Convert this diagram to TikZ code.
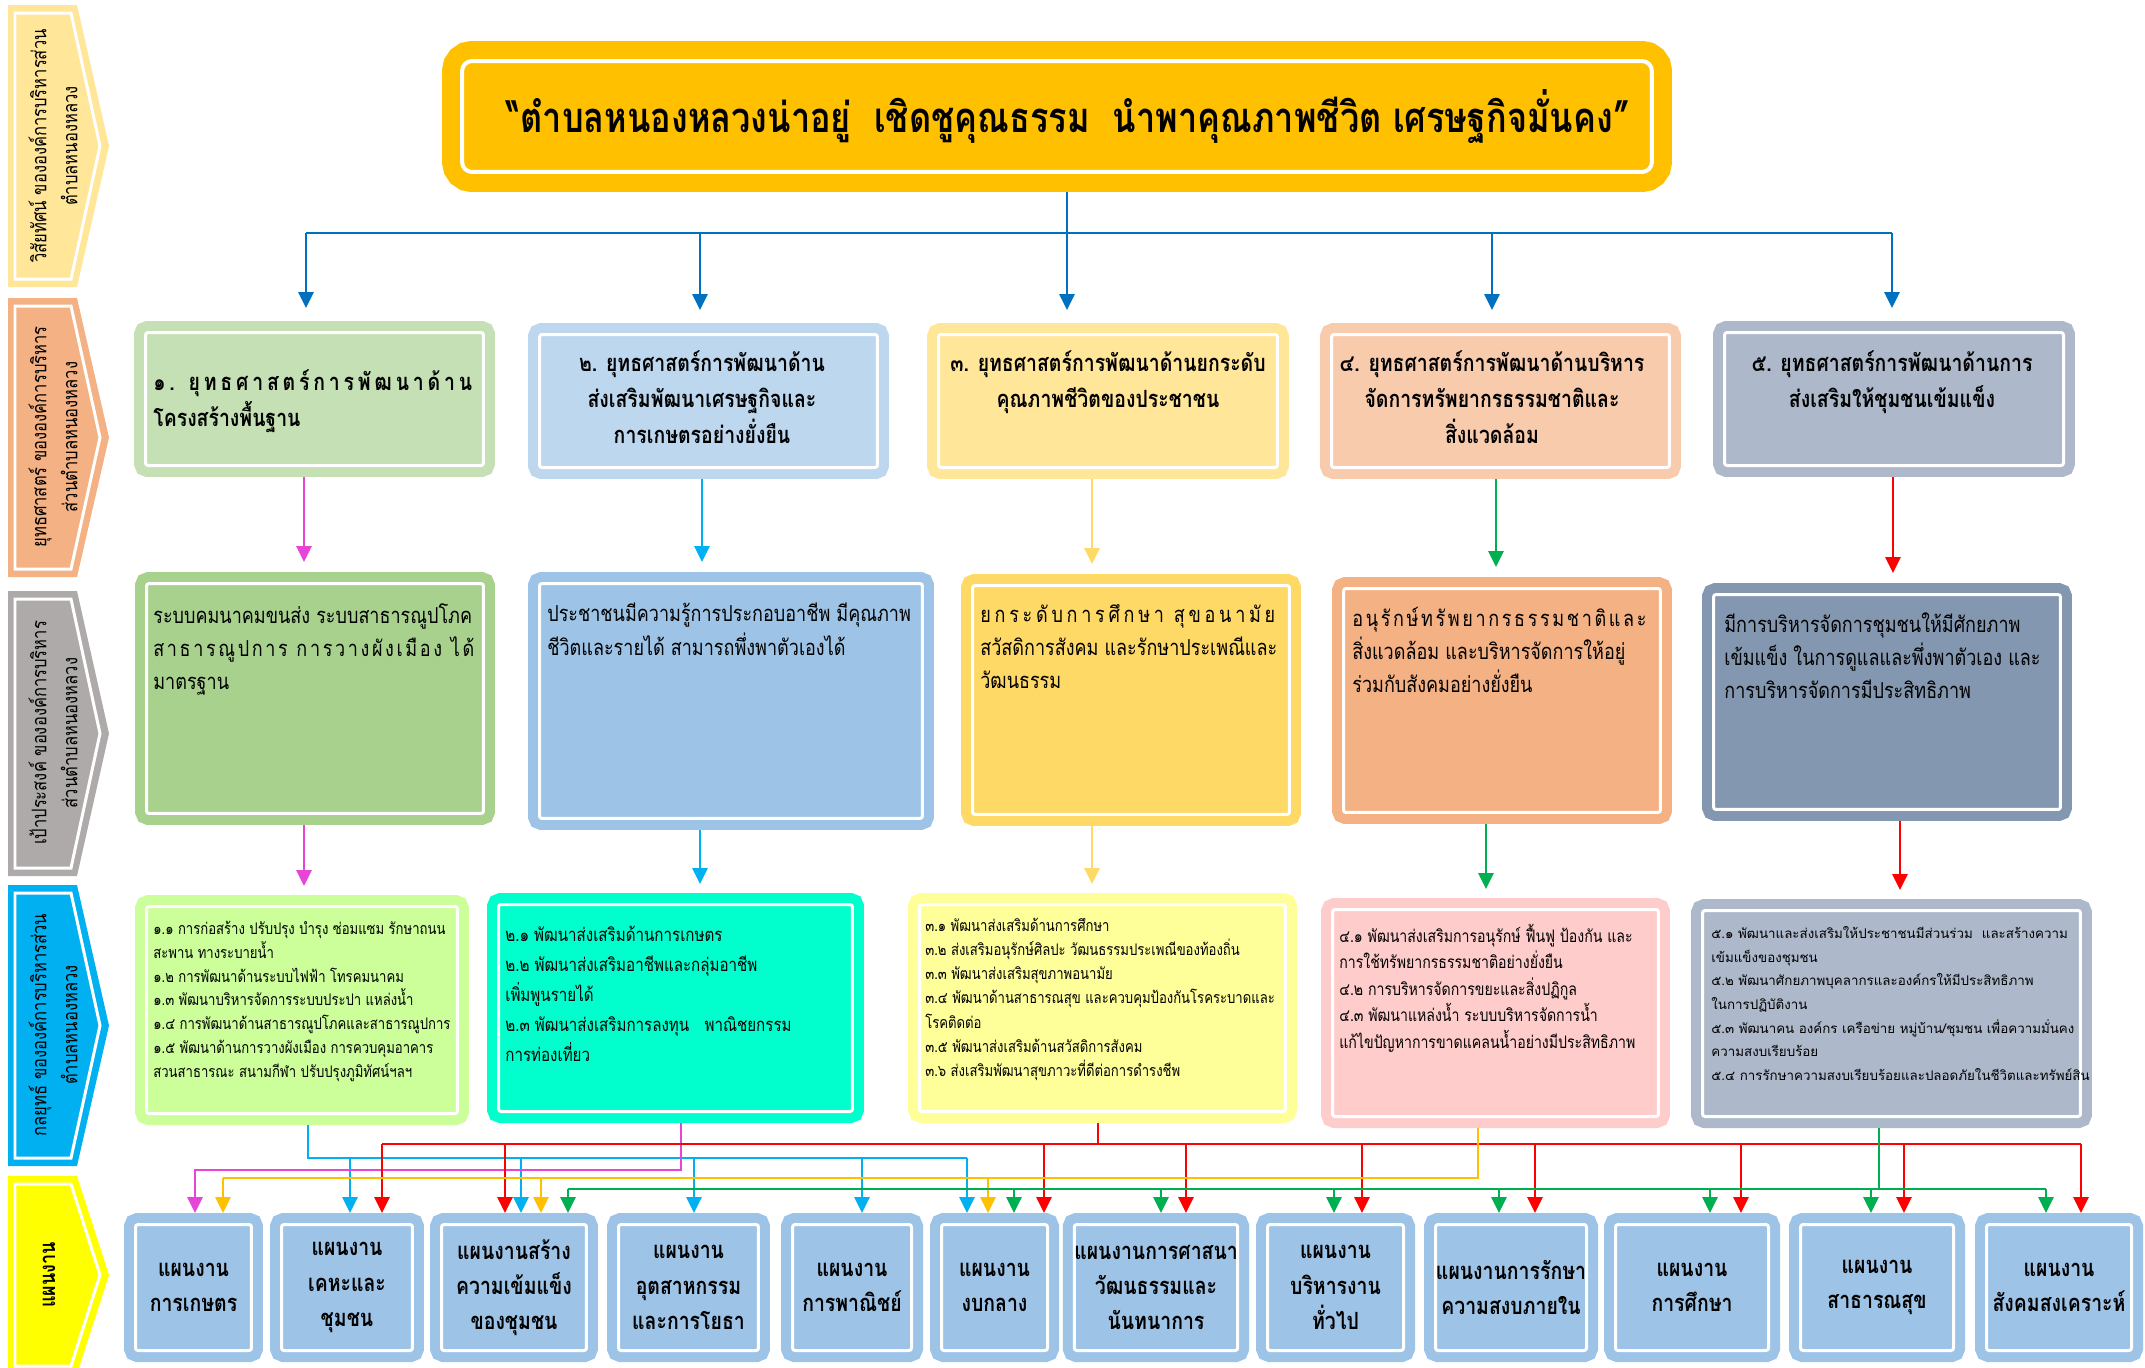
\documentclass[tikz,border=0pt]{standalone}
\usepackage{fontspec}
\newfontfamily\thai[Script=Thai]{Loma}
\newfontfamily\thain[Script=Thai,FakeStretch=0.82]{Loma}
\usetikzlibrary{arrows.meta}

\definecolor{ttl}{HTML}{FFC000}
\definecolor{tline}{HTML}{0070C0}
\definecolor{lab1}{HTML}{FFE699}
\definecolor{lab2}{HTML}{F4B183}
\definecolor{lab3}{HTML}{AEAAAA}
\definecolor{lab4}{HTML}{00B0F0}
\definecolor{lab5}{HTML}{FFFF00}
\definecolor{s1c}{HTML}{C5E0B4}
\definecolor{s2c}{HTML}{BDD7EE}
\definecolor{s3c}{HTML}{FFE699}
\definecolor{s4c}{HTML}{F8CBAD}
\definecolor{s5c}{HTML}{ADB9CA}
\definecolor{g1c}{HTML}{A9D18E}
\definecolor{g2c}{HTML}{9DC3E6}
\definecolor{g3c}{HTML}{FFD966}
\definecolor{g4c}{HTML}{F4B183}
\definecolor{g5c}{HTML}{8497B0}
\definecolor{p1c}{HTML}{CCFF99}
\definecolor{p2c}{HTML}{00FFCC}
\definecolor{p3c}{HTML}{FFFF99}
\definecolor{p4c}{HTML}{FFCCCC}
\definecolor{p5c}{HTML}{ADB9CA}
\definecolor{planc}{HTML}{9DC3E6}
\definecolor{magc}{HTML}{E645D8}
\definecolor{cyanc}{HTML}{00B0F0}
\definecolor{lorc}{HTML}{FFD966}
\definecolor{orgc}{HTML}{FFC000}
\definecolor{grnc}{HTML}{00B050}
\definecolor{redc}{HTML}{FF0000}

\begin{document}
\begin{tikzpicture}[x=0.02cm, y=-0.02cm,
  panel/.style={rectangle, rounded corners=0.05cm, line width=0.2cm, double=white,
    double distance=0.06cm, inner sep=0pt, outer sep=0.23cm},
  plan/.style={panel, draw=planc, fill=planc, minimum width=#1, minimum height=2.52cm,
    align=center, font=\thain\bfseries\fontsize{13.5}{20}\selectfont},
  lbl/.style={rotate=90, align=center, font=\thain\fontsize{11.5}{17.6}\selectfont},
  stext/.style={anchor=north, inner sep=0pt, align=center,
    font=\thain\bfseries\fontsize{13.5}{20.5}\selectfont},
  gtext/.style={anchor=north west, inner sep=0pt, align=left,
    font=\thain\fontsize{12.5}{18.8}\selectfont},
  ptext/.style={anchor=north west, inner sep=0pt, align=left},
  conn/.style={line width=0.055cm},
  arw/.style={-{Triangle[width=0.3cm,length=0.32cm]}}]

\path[use as bounding box, fill=white] (0,0) rectangle (2145,1367);

% left side labels
\foreach \a/\b/\c in {5/287/lab1, 298/577/lab2, 591/876/lab3, 885/1166/lab4, 1176/1374/lab5} {
  \fill[\c] (8,\a) -- (77,\a) -- (109,{(\a+\b)/2}) -- (77,\b) -- (8,\b) -- cycle;
  \draw[white, line width=0.06cm] (15,\a+8) -- (71,\a+8) -- (100,{(\a+\b)/2})
    -- (71,\b-8) -- (15,\b-8) -- cycle;
}
\node[lbl] (L1) at (53,146) {วิสัยทัศน์ ขององค์การบริหารส่วน\\ตำบลหนองหลวง};
\node[lbl] (L2) at (53,437) {ยุทธศาสตร์ ขององค์การบริหาร\\ส่วนตำบลหนองหลวง};
\node[lbl] (L3) at (53,733) {เป้าประสงค์ ขององค์การบริหาร\\ส่วนตำบลหนองหลวง};
\node[lbl] (L4) at (53,1025) {กลยุทธ์ ขององค์การบริหารส่วน\\ตำบลหนองหลวง};
\node[lbl, font=\thain\bfseries\fontsize{12.5}{14}\selectfont] (L5) at (49,1275) {แผนงาน};

% vision
\node[panel, draw=ttl, fill=ttl, line width=0.36cm, double distance=0.08cm, outer sep=0.4cm,
  rounded corners=0.2cm, minimum width=23.8cm, minimum height=2.22cm,
  font=\thain\bfseries\fontsize{23.8}{28}\selectfont] (T) at (1057,116.5)
  {\hspace*{0.44cm}“ตำบลหนองหลวงน่าอยู่~~เชิดชูคุณธรรม~~นำพาคุณภาพชีวิต เศรษฐกิจมั่นคง”};

% strategies
\node[panel, draw=s1c, fill=s1c, minimum width=6.76cm, minimum height=2.66cm] (S1) at (314.5,399) {};
\node[panel, draw=s2c, fill=s2c, minimum width=6.76cm, minimum height=2.66cm] (S2) at (708.5,401) {};
\node[panel, draw=s3c, fill=s3c, minimum width=6.78cm, minimum height=2.66cm] (S3) at (1108,401) {};
\node[panel, draw=s4c, fill=s4c, minimum width=6.76cm, minimum height=2.66cm] (S4) at (1500.5,401) {};
\node[panel, draw=s5c, fill=s5c, minimum width=6.78cm, minimum height=2.66cm] (S5) at (1894,399) {};
\node[stext, anchor=north west, align=left] (S1t) at (153,369) {{\addfontfeature{LetterSpace=16}๑. ยุทธศาสตร์การพัฒนาด้าน}\\โครงสร้างพื้นฐาน};
\node[stext] (S2t) at (702,350) {๒. ยุทธศาสตร์การพัฒนาด้าน\\ส่งเสริมพัฒนาเศรษฐกิจและ\\การเกษตรอย่างยั่งยืน};
\node[stext] (S3t) at (1108,350) {๓. ยุทธศาสตร์การพัฒนาด้านยกระดับ\\คุณภาพชีวิตของประชาชน};
\node[stext] (S4t) at (1492,350) {๔. ยุทธศาสตร์การพัฒนาด้านบริหาร\\จัดการทรัพยากรธรรมชาติและ\\สิ่งแวดล้อม};
\node[stext] (S5t) at (1892,350) {๕. ยุทธศาสตร์การพัฒนาด้านการ\\ส่งเสริมให้ชุมชนเข้มแข็ง};

% goals
\node[panel, draw=g1c, fill=g1c, minimum width=6.74cm, minimum height=4.60cm] (G1) at (315,698.5) {};
\node[panel, draw=g2c, fill=g2c, minimum width=7.66cm, minimum height=4.70cm] (G2) at (731,701) {};
\node[panel, draw=g3c, fill=g3c, minimum width=6.34cm, minimum height=4.58cm] (G3) at (1131,700) {};
\node[panel, draw=g4c, fill=g4c, minimum width=6.34cm, minimum height=4.48cm] (G4) at (1502,700.5) {};
\node[panel, draw=g5c, fill=g5c, minimum width=6.94cm, minimum height=4.30cm] (G5) at (1887,702) {};
\node[gtext] (G1t) at (153,603) {ระบบคมนาคมขนส่ง ระบบสาธารณูปโภค\\{\addfontfeature{LetterSpace=12}สาธารณูปการ การวางผังเมือง ได้}\\มาตรฐาน};
\node[gtext] (G2t) at (547,603) {ประชาชนมีความรู้การประกอบอาชีพ มีคุณภาพ\\ชีวิตและรายได้ สามารถพึ่งพาตัวเองได้};
\node[gtext] (G3t) at (980,604) {{\addfontfeature{LetterSpace=17}ยกระดับการศึกษา สุขอนามัย}\\สวัสดิการสังคม และรักษาประเพณีและ\\วัฒนธรรม};
\node[gtext] (G4t) at (1352,607) {{\addfontfeature{LetterSpace=12}อนุรักษ์ทรัพยากรธรรมชาติและ}\\สิ่งแวดล้อม และบริหารจัดการให้อยู่\\ร่วมกับสังคมอย่างยั่งยืน};
\node[gtext] (G5t) at (1724,612) {มีการบริหารจัดการชุมชนให้มีศักยภาพ\\เข้มแข็ง ในการดูแลและพึ่งพาตัวเอง และ\\การบริหารจัดการมีประสิทธิภาพ};

% strategy groups
\node[panel, draw=p1c, fill=p1c, minimum width=6.22cm, minimum height=4.14cm] (P1) at (302,1010) {};
\node[panel, draw=p2c, fill=p2c, minimum width=7.08cm, minimum height=4.14cm] (P2) at (675.5,1008) {};
\node[panel, draw=p3c, fill=p3c, minimum width=7.32cm, minimum height=4.14cm] (P3) at (1102.5,1008) {};
\node[panel, draw=p4c, fill=p4c, minimum width=6.52cm, minimum height=4.14cm] (P4) at (1495.5,1013) {};
\node[panel, draw=p5c, fill=p5c, minimum width=7.56cm, minimum height=4.12cm] (P5) at (1891.5,1013.5) {};
\node[ptext, font=\thain\fontsize{9.1}{13.5}\selectfont] (P1t) at (153,921) {๑.๑ การก่อสร้าง ปรับปรุง บำรุง ซ่อมแซม รักษาถนน\\สะพาน ทางระบายน้ำ\\๑.๒ การพัฒนาด้านระบบไฟฟ้า โทรคมนาคม\\๑.๓ พัฒนาบริหารจัดการระบบประปา แหล่งน้ำ\\๑.๔ การพัฒนาด้านสาธารณูปโภคและสาธารณูปการ\\๑.๕ พัฒนาด้านการวางผังเมือง การควบคุมอาคาร\\สวนสาธารณะ สนามกีฬา ปรับปรุงภูมิทัศน์ฯลฯ};
\node[ptext, font=\thain\fontsize{10.5}{17}\selectfont] (P2t) at (505,926) {๒.๑ พัฒนาส่งเสริมด้านการเกษตร\\๒.๒ พัฒนาส่งเสริมอาชีพและกลุ่มอาชีพ\\เพิ่มพูนรายได้\\๒.๓ พัฒนาส่งเสริมการลงทุน~~~พาณิชยกรรม\\การท่องเที่ยว};
\node[ptext, font=\thain\fontsize{9.1}{13.7}\selectfont] (P3t) at (925,918) {๓.๑ พัฒนาส่งเสริมด้านการศึกษา\\๓.๒ ส่งเสริมอนุรักษ์ศิลปะ วัฒนธรรมประเพณีของท้องถิ่น\\๓.๓ พัฒนาส่งเสริมสุขภาพอนามัย\\๓.๔ พัฒนาด้านสาธารณสุข และควบคุมป้องกันโรคระบาดและ\\โรคติดต่อ\\๓.๕ พัฒนาส่งเสริมด้านสวัสดิการสังคม\\๓.๖ ส่งเสริมพัฒนาสุขภาวะที่ดีต่อการดำรงชีพ};
\begin{scope}
\clip (1321,898) rectangle (1670,1128);
\node[ptext, font=\thain\fontsize{9.8}{15}\selectfont] (P4t) at (1339,924) {๔.๑ พัฒนาส่งเสริมการอนุรักษ์ ฟื้นฟู ป้องกัน และ\\การใช้ทรัพยากรธรรมชาติอย่างยั่งยืน\\๔.๒ การบริหารจัดการขยะและสิ่งปฏิกูล\\๔.๓ พัฒนาแหล่งน้ำ ระบบบริหารจัดการน้ำ\\แก้ไขปัญหาการขาดแคลนน้ำอย่างมีประสิทธิภาพ};
\end{scope}
\begin{scope}
\clip (1691,899) rectangle (2092,1128);
\node[ptext, font=\thai\fontsize{7.6}{13.5}\selectfont] (P5t) at (1711,926) {๕.๑ พัฒนาและส่งเสริมให้ประชาชนมีส่วนร่วม~~และสร้างความ\\เข้มแข็งของชุมชน\\๕.๒ พัฒนาศักยภาพบุคลากรและองค์กรให้มีประสิทธิภาพ\\ในการปฏิบัติงาน\\๕.๓ พัฒนาคน องค์กร เครือข่าย หมู่บ้าน/ชุมชน เพื่อความมั่นคง\\ความสงบเรียบร้อย\\๕.๔ การรักษาความสงบเรียบร้อยและปลอดภัยในชีวิตและทรัพย์สิน};
\end{scope}

% plans
\node[plan=2.32cm] (B1) at (193.5,1287.5) {แผนงาน\\การเกษตร};
\node[plan=2.62cm] (B2) at (347,1287.5) {แผนงาน\\เคหะและ\\ชุมชน};
\node[plan=2.90cm] (B3) at (514,1287.5) {แผนงานสร้าง\\ความเข้มแข็ง\\ของชุมชน};
\node[plan=2.80cm] (B4) at (688.5,1287.5) {แผนงาน\\อุตสาหกรรม\\และการโยธา};
\node[plan=2.38cm] (B5) at (852,1287.5) {แผนงาน\\การพาณิชย์};
\node[plan=2.12cm] (B6) at (994.5,1287.5) {แผนงาน\\งบกลาง};
\node[plan=3.10cm] (B7) at (1156,1287.5) {แผนงานการศาสนา\\วัฒนธรรมและ\\นันทนาการ};
\node[plan=2.72cm] (B8) at (1335.5,1287.5) {แผนงาน\\บริหารงาน\\ทั่วไป};
\node[plan=3.02cm] (B9) at (1511,1287.5) {แผนงานการรักษา\\ความสงบภายใน};
\node[plan=3.06cm] (B10) at (1692,1287.5) {แผนงาน\\การศึกษา};
\node[plan=3.06cm] (B11) at (1877,1287.5) {แผนงาน\\สาธารณสุข};
\node[plan=2.90cm] (B12) at (2059,1287.5) {แผนงาน\\สังคมสงเคราะห์};

% vision -> strategies
\draw[tline, conn] (1067,0 |- T.south) -- (1067,233);
\draw[tline, conn] (306,233) -- (1892,233);
\foreach \x/\n in {306/S1, 700/S2, 1067/S3, 1492/S4, 1892/S5}
  \draw[tline, conn, arw, shorten >=0.26cm] (\x,233) -- (\x,0 |- \n.north);

% strategies -> goals -> strategy groups
\foreach \x/\a/\b/\c in {304/S1/G1/magc, 702/S2/G2/cyanc, 1092/S3/G3/lorc, 1496/S4/G4/grnc, 1893/S5/G5/redc}
  \draw[\c, conn, arw, shorten >=0.2cm] (\x,0 |- \a.south) -- (\x,0 |- \b.north);
\foreach \x/\a/\b/\c in {304/G1/P1/magc, 700/G2/P2/cyanc, 1092/G3/P3/lorc, 1486/G4/P4/grnc, 1900/G5/P5/redc}
  \draw[\c, conn, arw, shorten >=0.18cm] (\x,0 |- \a.south) -- (\x,0 |- \b.north);

% strategy groups -> plans
\draw[cyanc, conn] (308,0 |- P1.south) |- (967,1158);
\foreach \x/\n in {350/B2, 521/B3, 694/B4, 862/B5, 967/B6}
  \draw[cyanc, conn, arw] (\x,1158) -- (\x,0 |- \n.north);
\draw[magc, conn, arw] (681,0 |- P2.south) -- (681,1170) -- (195,1170) -- (195,0 |- B1.north);
\draw[redc, conn] (1098,0 |- P3.south) -- (1098,1144);
\draw[redc, conn] (382,1144) -- (2081,1144);
\foreach \x/\n in {382/B2, 505/B3, 1044/B6, 1186/B7, 1362/B8, 1535/B9, 1741/B10, 1904/B11, 2081/B12}
  \draw[redc, conn, arw] (\x,1144) -- (\x,0 |- \n.north);
\draw[orgc, conn] (1478,0 |- P4.south) |- (223,1178);
\foreach \x/\n in {223/B1, 541/B3, 988/B6}
  \draw[orgc, conn, arw] (\x,1178) -- (\x,0 |- \n.north);
\draw[grnc, conn] (1879,0 |- P5.south) -- (1879,1189);
\draw[grnc, conn] (568,1189) -- (2046,1189);
\foreach \x/\n in {568/B3, 1014/B6, 1161/B7, 1334/B8, 1499/B9, 1710/B10, 1871/B11, 2046/B12}
  \draw[grnc, conn, arw] (\x,1189) -- (\x,0 |- \n.north);

\end{tikzpicture}
\end{document}
